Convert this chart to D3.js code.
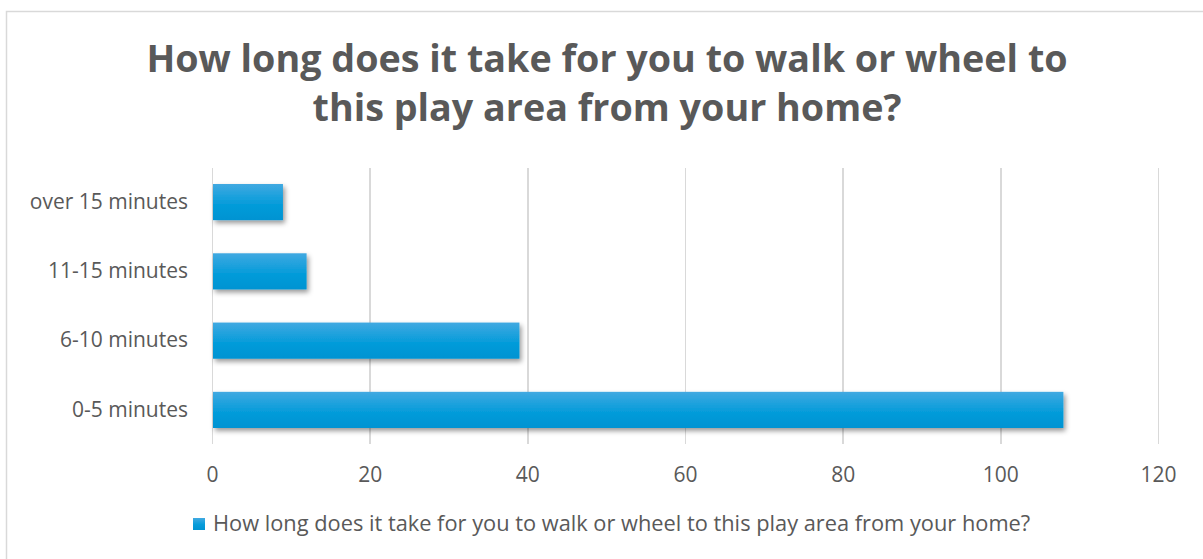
<!DOCTYPE html>
<meta charset="utf-8">
<html>
  <head>
    <script src="https://d3js.org/d3.v7.min.js"></script>
    <style type="text/css">
      body{ margin:0; background:#fff; }
      .axis path{ display:none; }
      .axis line{ display:none; }
      .axis text{ font-family:"Open Sans", "Liberation Sans", Arial, sans-serif; font-size:21px; fill:#595959; }
      .grid line{ stroke:#d9d9d9; stroke-width:1.5; shape-rendering:crispEdges; }
      .grid path{ display:none; }
    </style>
  </head>
  <body>
    <div id="plot"></div>
  <script>
    var categories = ["over 15 minutes", "11-15 minutes", "6-10 minutes", "0-5 minutes"];
    var values = [9, 12, 39, 108];
    var xTicks = [0, 20, 40, 60, 80, 100, 120];
    var titleLines = ["How long does it take for you to walk or wheel to", "this play area from your home?"];
    var seriesName = "How long does it take for you to walk or wheel to this play area from your home?";

    var W = 1203, H = 559;
    var margin = {top:168, right:45, bottom:115, left:212},
        width = W-margin.left-margin.right,
        height = H-margin.top-margin.bottom;

    var root = d3.select("#plot").append("svg")
        .attr("width", W)
        .attr("height", H);

    var defs = root.append("defs");
    var grad = defs.append("linearGradient")
        .attr("id","barGrad").attr("x1","0").attr("y1","0").attr("x2","0").attr("y2","1");
    grad.append("stop").attr("offset","0%").attr("stop-color","#41a9e1");
    grad.append("stop").attr("offset","55%").attr("stop-color","#069cda");
    grad.append("stop").attr("offset","100%").attr("stop-color","#0093d2");
    var shadow = defs.append("filter").attr("id","shadow")
        .attr("x","-10%").attr("y","-30%").attr("width","130%").attr("height","180%");
    shadow.append("feDropShadow")
        .attr("dx",2).attr("dy",3).attr("stdDeviation",2.5)
        .attr("flood-color","#000").attr("flood-opacity",0.4);

    // chart border
    root.append("rect")
        .attr("x",6.5).attr("y",11.5)
        .attr("width",W+20).attr("height",H+20)
        .style("fill","#fff").style("stroke","#d9d9d9").style("stroke-width",1.5);

    // title
    root.append("text")
        .attr("x",607).attr("y",72)
        .style("font-family","'Open Sans', 'Liberation Sans', Arial, sans-serif")
        .style("font-weight","bold").style("font-size","37.7px")
        .style("fill","#595959").style("text-anchor","middle")
      .selectAll("tspan")
        .data(titleLines)
        .enter().append("tspan")
        .attr("x",607)
        .attr("dy",function(d,i){ return i==0 ? 0 : 49; })
        .text(function(d){ return d; });

    var svg = root.append("g")
        .attr("transform","translate("+margin.left+","+margin.top+")");

    var xScale = d3.scaleLinear().domain([0,120]).range([0,width]);
    var yScale = d3.scaleBand().domain(categories).range([0,height]).paddingInner(0.478).paddingOuter(0.231);

    // grid
    svg.append("g")
        .attr("class","grid")
        .attr("transform","translate(0,"+height+")")
        .call(d3.axisBottom(xScale).tickValues(xTicks).tickSize(-height).tickFormat(""));

    // x axis labels
    svg.append("g")
        .attr("class","x axis")
        .attr("transform","translate(0,"+height+")")
        .call(d3.axisBottom(xScale).tickValues(xTicks).tickSize(0).tickPadding(23));

    // y axis labels
    svg.append("g")
        .attr("class","y axis")
        .call(d3.axisLeft(yScale).tickSize(0).tickPadding(24));

    // bars
    svg.selectAll(".bar")
        .data(values)
      .enter().append("rect")
        .attr("class","bar")
        .attr("x",xScale(0)+1)
        .attr("y",function(d,i){ return yScale(categories[i]); })
        .attr("width",function(d){ return xScale(d)-xScale(0)-1; })
        .attr("height",yScale.bandwidth())
        .style("fill","url(#barGrad)")
        .attr("filter","url(#shadow)");

    // legend
    var legend = root.append("g").attr("transform","translate(193,518)");
    legend.append("rect")
        .attr("width",12).attr("height",12)
        .style("fill","url(#barGrad)");
    legend.append("text")
        .attr("x",20).attr("y",13)
        .style("font-family","'Open Sans', 'Liberation Sans', Arial, sans-serif")
        .style("font-size","21.8px").style("fill","#595959")
        .text(seriesName);
  </script>
  </body>
</html>
